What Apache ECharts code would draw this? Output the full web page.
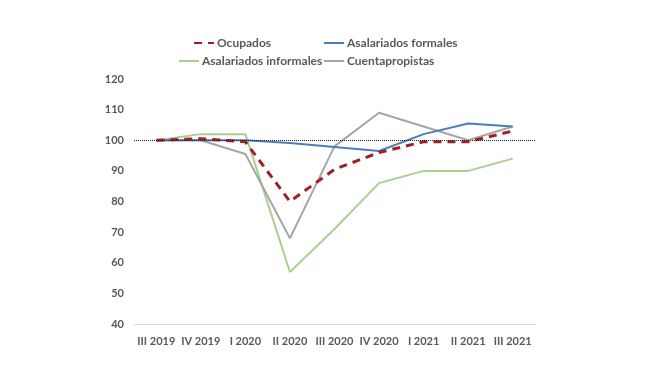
<!DOCTYPE html>
<html><head><meta charset="utf-8">
<script src="https://cdn.jsdelivr.net/npm/echarts@6/dist/echarts.min.js"></script>
<style>html,body{margin:0;padding:0;background:#fff}#c{width:660px;height:365px}</style>
</head><body><div id="c"></div>
<script>
var categories = ['III 2019','IV 2019','I 2020','II 2020','III 2020','IV 2020','I 2021','II 2021','III 2021'];
var ocupados = [100, 100.5, 99.5, 80, 90.5, 96, 99.5, 99.5, 103];
var formales = [100, 100, 100, 99.1, 97.8, 96.5, 102, 105.5, 104.5];
var informales = [100, 102, 102, 57, 71, 86, 90, 90, 94];
var cuentapropistas = [100, 100, 95.5, 68, 98, 109, 104.5, 100, 104.5];
var yTicks = {min: 40, max: 120, interval: 10};

var FONT = 'Lato';
var TXT = '#595959';
var chart = echarts.init(document.getElementById('c'));
function lg(name, left, top) {
  return {data: [name], left: left, top: top, itemWidth: 20, itemHeight: 10, itemGap: 0,
    padding: 0, itemStyle: {opacity: 0},
    textStyle: {fontFamily: FONT, fontSize: 12, fontWeight: 'bold', color: TXT, padding: [0,0,0,-2]}};
}
chart.setOption({
  animation: false,
  legend: [lg('Ocupados', 193, 37), lg('Asalariados formales', 323, 37),
           lg('Asalariados informales', 178, 55), lg('Cuentapropistas', 323, 55)],
  grid: {left: 134, right: 125, top: 79, bottom: 41},
  xAxis: {type: 'category', data: categories, boundaryGap: true,
    axisLine: {lineStyle: {color: '#D9D9D9'}}, axisTick: {show: false},
    axisLabel: {interval: 0, fontFamily: FONT, fontSize: 11, fontWeight: 'bold', color: TXT, margin: 12}},
  yAxis: {type: 'value', min: yTicks.min, max: yTicks.max, interval: yTicks.interval,
    splitLine: {show: false}, axisLine: {show: false}, axisTick: {show: false},
    axisLabel: {fontFamily: FONT, fontSize: 11, fontWeight: 'bold', color: TXT, margin: 10}},
  series: [
    {name: 'Asalariados informales', type: 'line', data: informales, symbol: 'none',
      lineStyle: {color: '#A9D18E', width: 2}, itemStyle: {color: '#A9D18E'},
      markLine: {silent: true, symbol: 'none', label: {show: false},
        lineStyle: {color: '#222', type: 'dotted', width: 1}, data: [{yAxis: 100}]}},
    {name: 'Cuentapropistas', type: 'line', data: cuentapropistas, symbol: 'none',
      lineStyle: {color: '#A6A6A6', width: 2}, itemStyle: {color: '#A6A6A6'}},
    {name: 'Asalariados formales', type: 'line', data: formales, symbol: 'none',
      lineStyle: {color: '#4A7EBB', width: 2}, itemStyle: {color: '#4A7EBB'}},
    {name: 'Ocupados', type: 'line', data: ocupados, symbol: 'none',
      lineStyle: {color: '#A31F24', width: 3, type: [8, 6]}, itemStyle: {color: '#A31F24'}}
  ]
});
</script></body></html>
